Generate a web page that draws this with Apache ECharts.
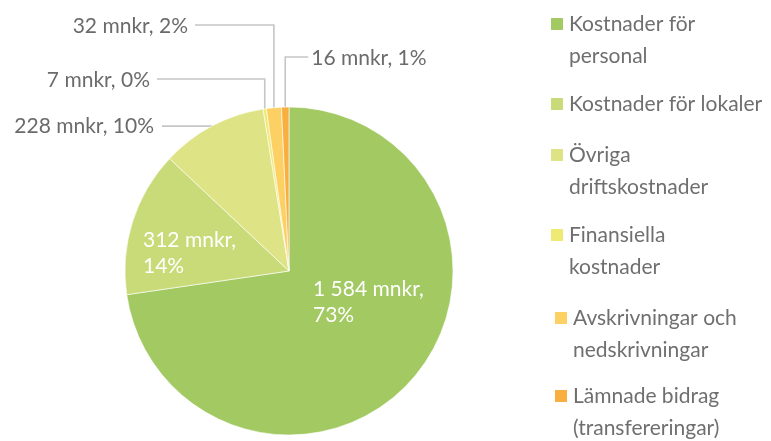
<!DOCTYPE html>
<html>
<head>
<meta charset="utf-8">
<script src="https://cdn.jsdelivr.net/npm/echarts@6/dist/echarts.min.js"></script>
<style>
html,body{margin:0;padding:0;background:#fff;}
#chart{width:771px;height:441px;}
</style>
</head>
<body>
<div id="chart"></div>
<script>
var categories = ['Kostnader för personal', 'Kostnader för lokaler', 'Övriga driftskostnader', 'Finansiella kostnader', 'Avskrivningar och nedskrivningar', 'Lämnade bidrag (transfereringar)'];
var legendLabels = ['Kostnader för\npersonal', 'Kostnader för lokaler', 'Övriga\ndriftskostnader', 'Finansiella\nkostnader', 'Avskrivningar och\nnedskrivningar', 'Lämnade bidrag\n(transfereringar)'];
var values = [1584, 312, 228, 7, 32, 16];
var percentLabels = ['73%', '14%', '10%', '0%', '2%', '1%'];
var colors = ['#A2C962', '#C9DB79', '#DEE485', '#EFEA73', '#FDD063', '#F8AF3F'];

var FONT = 'Lato';
var chart = echarts.init(document.getElementById('chart'));

function fmtValue(v) {
  var s = String(v);
  return s.replace(/\B(?=(\d{3})+(?!\d))/g, ' ');
}

var legendCenters = [24, 104, 155, 235, 318, 396];
var legendLefts = [549, 549, 549, 549, 553, 553];
var legends = categories.map(function (name, i) {
  var twoLine = legendLabels[i].indexOf('\n') >= 0;
  return {
    orient: 'vertical',
    left: legendLefts[i],
    top: legendCenters[i] - (twoLine ? 48 : 16),
    padding: 0,
    itemWidth: 14,
    itemHeight: 14,
    itemGap: 0,
    icon: 'rect',
    selectedMode: false,
    data: [name],
    formatter: function () { return twoLine ? '\n' + legendLabels[i] : legendLabels[i]; },
    textStyle: { fontFamily: FONT, fontSize: 21, color: '#6f6f6f', lineHeight: 32 }
  };
});

var data = categories.map(function (name, i) {
  var inside = i < 2;
  return {
    name: name,
    value: values[i],
    itemStyle: { color: colors[i] },
    label: {
      position: inside ? 'inside' : 'outside',
      color: inside ? '#ffffff' : '#6b6b6b',
      formatter: inside
        ? fmtValue(values[i]) + ' mnkr,\n' + percentLabels[i]
        : fmtValue(values[i]) + ' mnkr, ' + percentLabels[i]
    },
    labelLine: { show: !inside }
  };
});

function pt(p) { return Array.isArray(p) ? [p[0], p[1]] : [p.x, p.y]; }

// label anchor levels (layout constants)
var outsideLevels = { 3: 79, 4: 25, 5: 57 };

chart.setOption({
  animation: false,
  backgroundColor: '#ffffff',
  legend: legends,
  series: [{
    type: 'pie',
    center: [289, 271],
    radius: 164,
    startAngle: 90,
    clockwise: true,
    avoidLabelOverlap: false,
    minShowLabelAngle: 0,
    itemStyle: { borderColor: '#ffffff', borderWidth: 0.6 },
    label: {
      show: true,
      fontFamily: FONT,
      fontSize: 21,
      lineHeight: 26
    },
    labelLine: {
      show: true,
      length: 10,
      length2: 10,
      lineStyle: { color: '#c6c6c6', width: 1.6 }
    },
    emphasis: { disabled: true },
    data: data,
    labelLayout: function (p) {
      var i = p.dataIndex;
      if (i === 0) return { x: 313, y: 276, align: 'left', verticalAlign: 'top' };
      if (i === 1) return { x: 143, y: 227, align: 'left', verticalAlign: 'top' };
      var pts = p.labelLinePoints || [];
      if (!pts.length) return {};
      var p0 = pt(pts[0]);
      if (i === 2) {
        var endX = 162;
        return { x: endX - 8, y: p0[1], align: 'right', verticalAlign: 'middle',
          labelLinePoints: [p0, [endX, p0[1]]] };
      }
      var ly = outsideLevels[i];
      if (i === 5) {
        var ex = p0[0] + 23;
        return { x: ex + 3, y: ly + 1, align: 'left', verticalAlign: 'middle',
          labelLinePoints: [p0, [p0[0], ly], [ex, ly]] };
      }
      var ex2 = (i === 3) ? 157 : 195;
      return { x: ex2 - 7, y: ly + 1, align: 'right', verticalAlign: 'middle',
        labelLinePoints: [p0, [p0[0], ly], [ex2, ly]] };
    }
  }]
});
</script>
</body>
</html>
